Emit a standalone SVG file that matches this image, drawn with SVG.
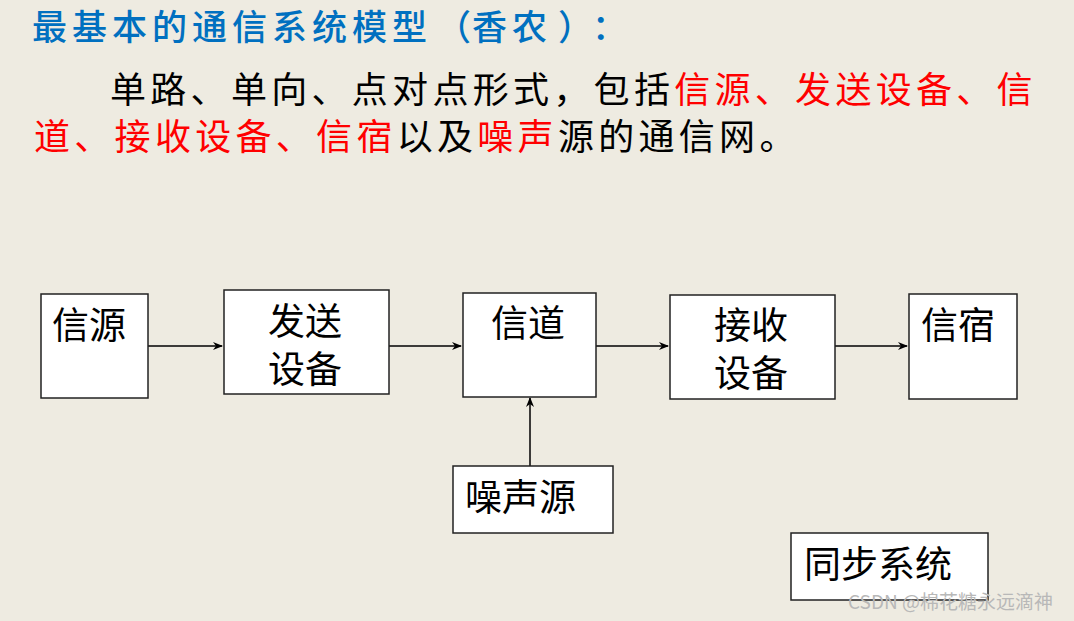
<svg xmlns="http://www.w3.org/2000/svg" width="1074" height="621" viewBox="0 0 1074 621">
<style>
text{font-family:"Noto Sans CJK SC","Liberation Sans",sans-serif;}
.t{font-size:35px;fill:#0070C0;font-weight:500;}
.p{font-size:36px;fill:#000;letter-spacing:4.3px;}
.r{fill:#FF0000;}
.box{fill:#fff;stroke:#222;stroke-width:1.5;}
.lbl{font-size:37px;fill:#000;}
.c{stroke:#000;stroke-width:1.5;fill:none;marker-end:url(#ah);}
.wm{font-size:19px;fill:#b8b8b8;}
</style>
<defs>
<marker id="ah" markerWidth="10" markerHeight="8" refX="9" refY="4" orient="auto" markerUnits="userSpaceOnUse">
<path d="M0,0 L10,4 L0,8 L3,4 Z" fill="#000"/>
</marker>
</defs>
<rect width="1074" height="621" fill="#EEEBE1"/>
<text class="t" x="32 72 112 152 192 232 272 312 352 392 436 472 512 558 592" y="40">最基本的通信系统模型（香农）：</text>
<text class="p" x="110" y="103">单路、单向、点对点形式，包括<tspan class="r">信源、发送设备、信</tspan></text>
<text class="p" x="34" y="150"><tspan class="r">道、接收设备、信宿</tspan>以及<tspan class="r">噪声</tspan>源的通信网。</text>
<g id="connectors">
<line class="c" x1="148" y1="346" x2="222" y2="346"/>
<line class="c" x1="389" y1="346" x2="461" y2="346"/>
<line class="c" x1="596" y1="346" x2="668" y2="346"/>
<line class="c" x1="835" y1="346" x2="907" y2="346"/>
<line class="c" x1="530" y1="466" x2="530" y2="398"/>
</g>
<g id="n1"><rect class="box" x="41" y="294" width="107" height="104"/><text class="lbl" x="52" y="339">信源</text></g>
<g id="n2"><rect class="box" x="224" y="290" width="165" height="104"/><text class="lbl"><tspan x="268" y="335">发送</tspan><tspan x="268" y="383">设备</tspan></text></g>
<g id="n3"><rect class="box" x="463" y="293" width="133" height="104"/><text class="lbl" x="491" y="337">信道</text></g>
<g id="n4"><rect class="box" x="670" y="295" width="165" height="104"/><text class="lbl"><tspan x="714" y="339">接收</tspan><tspan x="714" y="387">设备</tspan></text></g>
<g id="n5"><rect class="box" x="909" y="294" width="108" height="105"/><text class="lbl" x="921" y="339">信宿</text></g>
<g id="n6"><rect class="box" x="453" y="466" width="160" height="67"/><text class="lbl" x="465" y="511">噪声源</text></g>
<g id="n7"><rect class="box" x="791" y="533" width="197" height="67"/><text class="lbl" x="804" y="578">同步系统</text></g>
<text class="wm" x="848" y="609">CSDN @棉花糖永远滴神</text>
</svg>
